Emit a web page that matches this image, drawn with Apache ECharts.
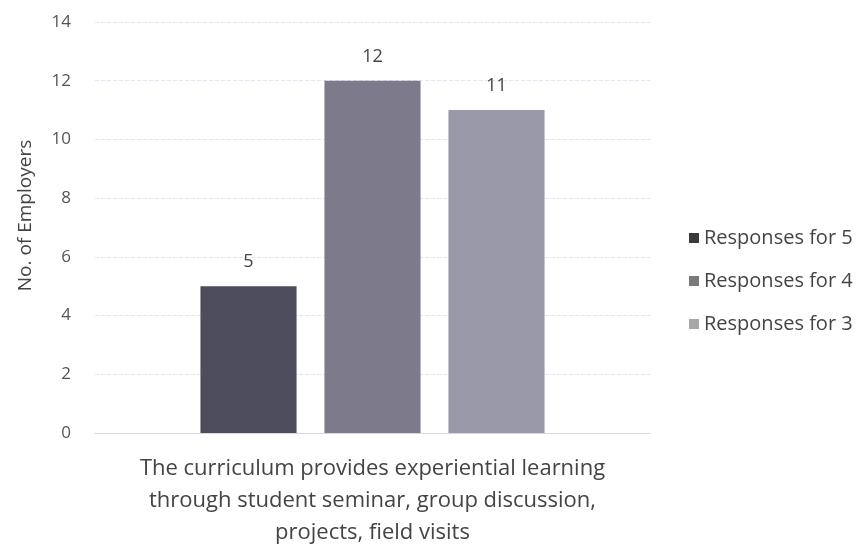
<!DOCTYPE html>
<html>
<head>
<meta charset="utf-8">
<script src="https://cdn.jsdelivr.net/npm/echarts@6/dist/echarts.min.js"></script>
<style>
  html, body { margin: 0; padding: 0; background: #fff; }
  #main { width: 863px; height: 551px; }
</style>
</head>
<body>
<div id="main"></div>
<script>
const categories = [
  "The curriculum provides experiential learning\nthrough student seminar, group discussion,\nprojects, field visits"
];
const seriesNames = ["Responses for 5", "Responses for 4", "Responses for 3"];
const responses5 = [5];
const responses4 = [12];
const responses3 = [11];
const barColors = ["#4d4c5c", "#7c7a8b", "#9a99aa"];
const legendColors = ["#3a3a3a", "#7a7a7a", "#a8a8a8"];

const font = "'Open Sans', sans-serif";
const chart = echarts.init(document.getElementById("main"));

const labelOption = {
  show: true,
  position: "top",
  distance: 15,
  fontSize: 18,
  color: "#444",
  fontFamily: font
};

function makeSeries(name, data, i) {
  return {
    name: name,
    type: "bar",
    data: data,
    barGap: "29%",
    barCategoryGap: "38%",
    itemStyle: { color: barColors[i] },
    label: labelOption
  };
}

const option = {
  animation: false,
  grid: { left: 95, right: 213, top: 22, bottom: 118 },
  legend: {
    orient: "vertical",
    left: 684,
    top: 223,
    itemWidth: 10,
    itemHeight: 10,
    itemGap: 23,
    icon: "rect",
    textStyle: { fontSize: 20, color: "#444", fontFamily: font },
    data: seriesNames.map((n, i) => ({ name: n, itemStyle: { color: legendColors[i] } }))
  },
  xAxis: {
    type: "category",
    data: categories,
    axisTick: { show: false },
    axisLine: { lineStyle: { color: "#d8d8df" } },
    axisLabel: {
      fontSize: 22,
      color: "#444",
      fontFamily: font,
      lineHeight: 32,
      margin: 20
    }
  },
  yAxis: {
    type: "value",
    min: 0,
    max: 14,
    interval: 2,
    name: "No. of Employers",
    nameLocation: "middle",
    nameGap: 60,
    nameTextStyle: { fontSize: 19, color: "#444", fontFamily: font, padding: [0, 0, 0, 24] },
    axisLabel: { fontSize: 17, color: "#555", fontFamily: font, margin: 24 },
    splitLine: { lineStyle: { color: "#e4e4ee", type: "dashed" } }
  },
  series: [
    makeSeries(seriesNames[0], responses5, 0),
    makeSeries(seriesNames[1], responses4, 1),
    makeSeries(seriesNames[2], responses3, 2)
  ]
};
chart.setOption(option);
</script>
</body>
</html>
